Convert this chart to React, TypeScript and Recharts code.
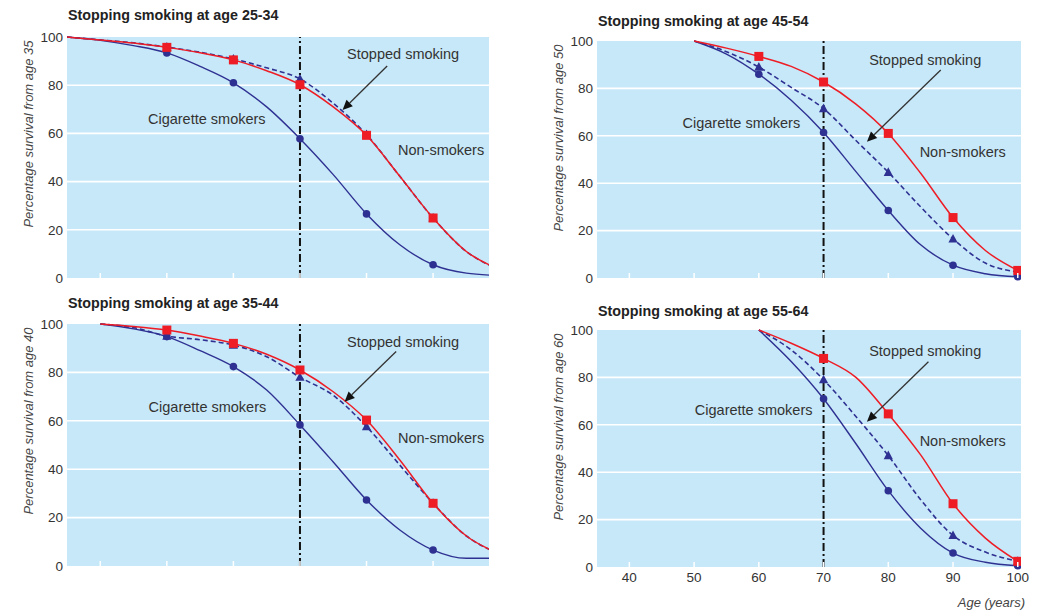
import { CartesianGrid, Line, LineChart, ReferenceDot, ReferenceLine, XAxis, YAxis } from 'recharts';

// ages (years) and percentage surviving
const agesTL = [35, 40, 45, 50, 55, 60, 65, 70, 75, 80, 85, 90, 95, 100];
const cigTL = [100, 98.6, 96.4, 93.4, 87.8, 81, 71, 57.8, 42.9, 26.6, 13.8, 5.5, 2, 1];
const stopTL = [100, 98.8, 97.6, 95.8, 93.7, 90.9, 87.2, 82.6, 72.5, 59.5, 42.2, 24.9, 11, 3.5];
const nonTL = [100, 98.8, 97.5, 95.7, 93.5, 90.5, 86, 80.2, 71, 59.2, 42.2, 24.9, 11, 3.5];

const agesTR = [50, 55, 60, 65, 70, 75, 80, 85, 90, 95, 100];
const cigTR = [100, 94.5, 86, 75, 61.4, 44.9, 28.5, 14, 5.4, 1.8, 0.5];
const stopTR = [100, 95.5, 89, 80.4, 71.5, 58, 44.6, 30, 16.5, 6.3, 2.5];
const nonTR = [100, 97, 93.5, 89.3, 82.7, 73.4, 61, 44.2, 25.5, 11.6, 3.2];

const agesBL = [40, 45, 50, 55, 60, 65, 70, 75, 80, 85, 90, 95, 100];
const cigBL = [100, 98, 94.8, 89, 82.4, 72.7, 58.3, 43, 27.3, 14.9, 6.6, 3.2, 3.2];
const stopBL = [100, 98.5, 95, 93.5, 91.3, 86.5, 78, 70.5, 57.6, 41.7, 25.9, 12.4, 5];
const nonBL = [100, 99, 97.5, 95, 92, 87.5, 81, 72, 60.3, 43.8, 25.9, 12.4, 5];

const agesBR = [60, 65, 70, 75, 80, 85, 90, 95, 100];
const cigBR = [100, 86.7, 71, 52, 32.2, 16.4, 5.9, 2, 0.5];
const stopBR = [100, 91.6, 79, 63.5, 47, 28.4, 13.3, 6.3, 2.4];
const nonBR = [100, 94.4, 88, 80, 64.6, 47.3, 26.7, 12.2, 2.4];

const yTicks = [0, 20, 40, 60, 80, 100];
const ticksLeft = [40, 50, 60, 70, 80, 90];
const ticksRight = [40, 50, 60, 70, 80, 90, 100];

const RED = '#ee1c25';
const NAVY = '#2e3192';
const BG = '#c7e8f8';
const FONT = "'Liberation Sans', Arial, sans-serif";

const rows = (ages: number[], cig: number[], stop: number[], non: number[]) =>
  ages.map((age, i) => ({ age, cig: cig[i], stop: stop[i], non: non[i] }));

function marker(kind: 'square' | 'circle' | 'triangle', color: string, start: number) {
  return (p: any) => {
    const { cx, cy, payload, index } = p;
    const key = `${kind}-${index}`;
    if (cx == null || payload.age % 10 !== 0 || payload.age < start + 10) return <g key={key} />;
    if (kind === 'square') return <rect key={key} x={cx - 4.5} y={cy - 4.5} width={9} height={9} fill={color} />;
    if (kind === 'circle') return <circle key={key} cx={cx} cy={cy} r={3.8} fill={color} />;
    return <path key={key} d={`M${cx},${cy - 5}L${cx + 4.6},${cy + 3.6}L${cx - 4.6},${cy + 3.6}Z`} fill={color} />;
  };
}

function arrowShape(p: any) {
  const { x1, y1, x2, y2 } = p;
  const a = Math.atan2(y2 - y1, x2 - x1);
  const len = 10;
  const w = 4.5;
  const bx = x2 - len * Math.cos(a);
  const by = y2 - len * Math.sin(a);
  const nx = -Math.sin(a) * w;
  const ny = Math.cos(a) * w;
  return (
    <g>
      <line x1={x1} y1={y1} x2={bx} y2={by} stroke="#333" strokeWidth={1.3} />
      <path d={`M${x2},${y2}L${bx + nx},${by + ny}L${bx - nx},${by - ny}Z`} fill="#111" />
    </g>
  );
}

const textShape = (label: string) => (p: any) => (
  <text x={p.cx} y={p.cy} textAnchor="middle" dominantBaseline="central" fontFamily={FONT} fontSize={14.5} fill="#333">
    {label}
  </text>
);

interface PanelProps {
  left: number;
  top: number;
  width: number;
  height: number;
  margin: { top: number; right: number; bottom: number; left: number };
  titleTop: number;
  title: string;
  yLabel: string;
  start: number;
  xMax: number;
  ticks: number[];
  showXLabels?: boolean;
  data: { age: number; cig: number; stop: number; non: number }[];
  stopAt: [number, number];
  cigAt: [number, number];
  nonAt: [number, number];
  arrow: [number, number, number, number];
}

function Panel(pp: PanelProps) {
  const { margin, showXLabels } = pp;
  const plotLeft = margin.left + 50;
  return (
    <div style={{ position: 'absolute', left: pp.left, top: pp.top, width: pp.width, height: pp.height }}>
      <div
        style={{
          position: 'absolute',
          left: plotLeft + 1,
          top: pp.titleTop,
          fontFamily: FONT,
          fontWeight: 'bold',
          fontSize: 14.3,
          lineHeight: '16px',
          color: '#222',
          whiteSpace: 'nowrap',
        }}
      >
        {pp.title}
      </div>
      <LineChart width={pp.width} height={pp.height} data={pp.data} margin={margin}>
        <CartesianGrid
          vertical={false}
          horizontalValues={[20, 40, 60, 80]}
          stroke="#fff"
          strokeWidth={1.6}
          fill={BG}
          fillOpacity={1}
        />
        <XAxis
          dataKey="age"
          type="number"
          domain={[35, pp.xMax]}
          allowDataOverflow
          ticks={pp.ticks}
          interval={0}
          height={20}
          axisLine={false}
          tickLine={false}
          tickSize={0}
          tickMargin={0}
          tick={(t: any) => (
            <g key={`t-${t.payload.value}`}>
              <line x1={t.x} x2={t.x} y1={t.y} y2={t.y - 5} stroke="#fff" strokeWidth={1.5} />
              {showXLabels && (
                <text x={t.x} y={t.y + 10} dy="0.35em" textAnchor="middle" fontFamily={FONT} fontSize={13.5} fill="#333">
                  {t.payload.value}
                </text>
              )}
            </g>
          )}
        />
        <YAxis
          type="number"
          domain={[0, 100]}
          ticks={yTicks}
          width={50}
          axisLine={false}
          tickLine={false}
          tickSize={0}
          tickMargin={4}
          tick={{ fontFamily: FONT, fontSize: 13.5, fill: '#333' }}
          label={{
            content: (l: any) => {
              const vb = l.viewBox;
              const x = vb.x + 15.5;
              const y = vb.y + 97;
              return (
                <text
                  x={x}
                  y={y}
                  transform={`rotate(-90 ${x} ${y})`}
                  textAnchor="middle"
                  fontFamily={FONT}
                  fontStyle="italic"
                  fontSize={13}
                  fill="#444"
                >
                  {pp.yLabel}
                </text>
              );
            },
          }}
        />
        <ReferenceLine x={70} stroke="#111" strokeWidth={2} strokeDasharray="8 3 2 3" />
        <Line
          dataKey="cig"
          stroke={NAVY}
          strokeWidth={1.4}
          type="monotone"
          dot={marker('circle', NAVY, pp.start)}
          activeDot={false}
          isAnimationActive={false}
        />
        <Line
          dataKey="stop"
          stroke={NAVY}
          strokeWidth={1.6}
          strokeDasharray="5 3"
          type="monotone"
          dot={marker('triangle', NAVY, pp.start)}
          activeDot={false}
          isAnimationActive={false}
        />
        <Line
          dataKey="non"
          stroke={RED}
          strokeWidth={1.5}
          type="monotone"
          dot={marker('square', RED, pp.start)}
          activeDot={false}
          isAnimationActive={false}
        />
        <ReferenceLine
          segment={[
            { x: pp.arrow[0], y: pp.arrow[1] },
            { x: pp.arrow[2], y: pp.arrow[3] },
          ]}
          shape={arrowShape}
        />
        <ReferenceDot x={pp.stopAt[0]} y={pp.stopAt[1]} r={0} shape={textShape('Stopped smoking')} />
        <ReferenceDot x={pp.cigAt[0]} y={pp.cigAt[1]} r={0} shape={textShape('Cigarette smokers')} />
        <ReferenceDot x={pp.nonAt[0]} y={pp.nonAt[1]} r={0} shape={textShape('Non-smokers')} />
      </LineChart>
      {showXLabels && (
        <div
          style={{
            position: 'absolute',
            right: 20,
            top: 305,
            fontFamily: FONT,
            fontStyle: 'italic',
            fontSize: 13,
            lineHeight: '16px',
            color: '#444',
          }}
        >
          Age (years)
        </div>
      )}
    </div>
  );
}

export default function App() {
  return (
    <div style={{ position: 'absolute', left: 0, top: 0, width: 1045, height: 612, background: '#fff' }}>
      <Panel
        left={0}
        top={0}
        width={520}
        height={300}
        margin={{ top: 37, right: 31, bottom: 2, left: 17 }}
        titleTop={7}
        title="Stopping smoking at age 25-34"
        yLabel="Percentage survival from age 35"
        start={35}
        xMax={98.4}
        ticks={ticksLeft}
        data={rows(agesTL, cigTL, stopTL, nonTL)}
        stopAt={[85.5, 93]}
        cigAt={[56, 66]}
        nonAt={[91.2, 53]}
        arrow={[83.1, 88, 76.4, 69.7]}
      />
      <Panel
        left={520}
        top={0}
        width={525}
        height={300}
        margin={{ top: 41, right: 24, bottom: 2, left: 27 }}
        titleTop={13}
        title="Stopping smoking at age 45-54"
        yLabel="Percentage survival from age 50"
        start={50}
        xMax={100.5}
        ticks={ticksRight}
        data={rows(agesTR, cigTR, stopTR, nonTR)}
        stopAt={[85.7, 92]}
        cigAt={[57.3, 65.4]}
        nonAt={[91.5, 53]}
        arrow={[88.1, 87.8, 76.7, 57.5]}
      />
      <Panel
        left={0}
        top={290}
        width={520}
        height={322}
        margin={{ top: 34, right: 31, bottom: 26, left: 17 }}
        titleTop={5}
        title="Stopping smoking at age 35-44"
        yLabel="Percentage survival from age 40"
        start={40}
        xMax={98.4}
        ticks={ticksLeft}
        data={rows(agesBL, cigBL, stopBL, nonBL)}
        stopAt={[85.5, 92.7]}
        cigAt={[56.1, 65.8]}
        nonAt={[91.2, 53]}
        arrow={[84.45, 88.6, 76.7, 67.9]}
      />
      <Panel
        left={520}
        top={290}
        width={525}
        height={322}
        margin={{ top: 40, right: 24, bottom: 25, left: 27 }}
        titleTop={13}
        title="Stopping smoking at age 55-64"
        yLabel="Percentage survival from age 60"
        start={60}
        xMax={100.5}
        ticks={ticksRight}
        showXLabels
        data={rows(agesBR, cigBR, stopBR, nonBR)}
        stopAt={[85.7, 91]}
        cigAt={[59.2, 66.2]}
        nonAt={[91.5, 53.3]}
        arrow={[86.2, 86.6, 76.7, 61.3]}
      />
    </div>
  );
}
